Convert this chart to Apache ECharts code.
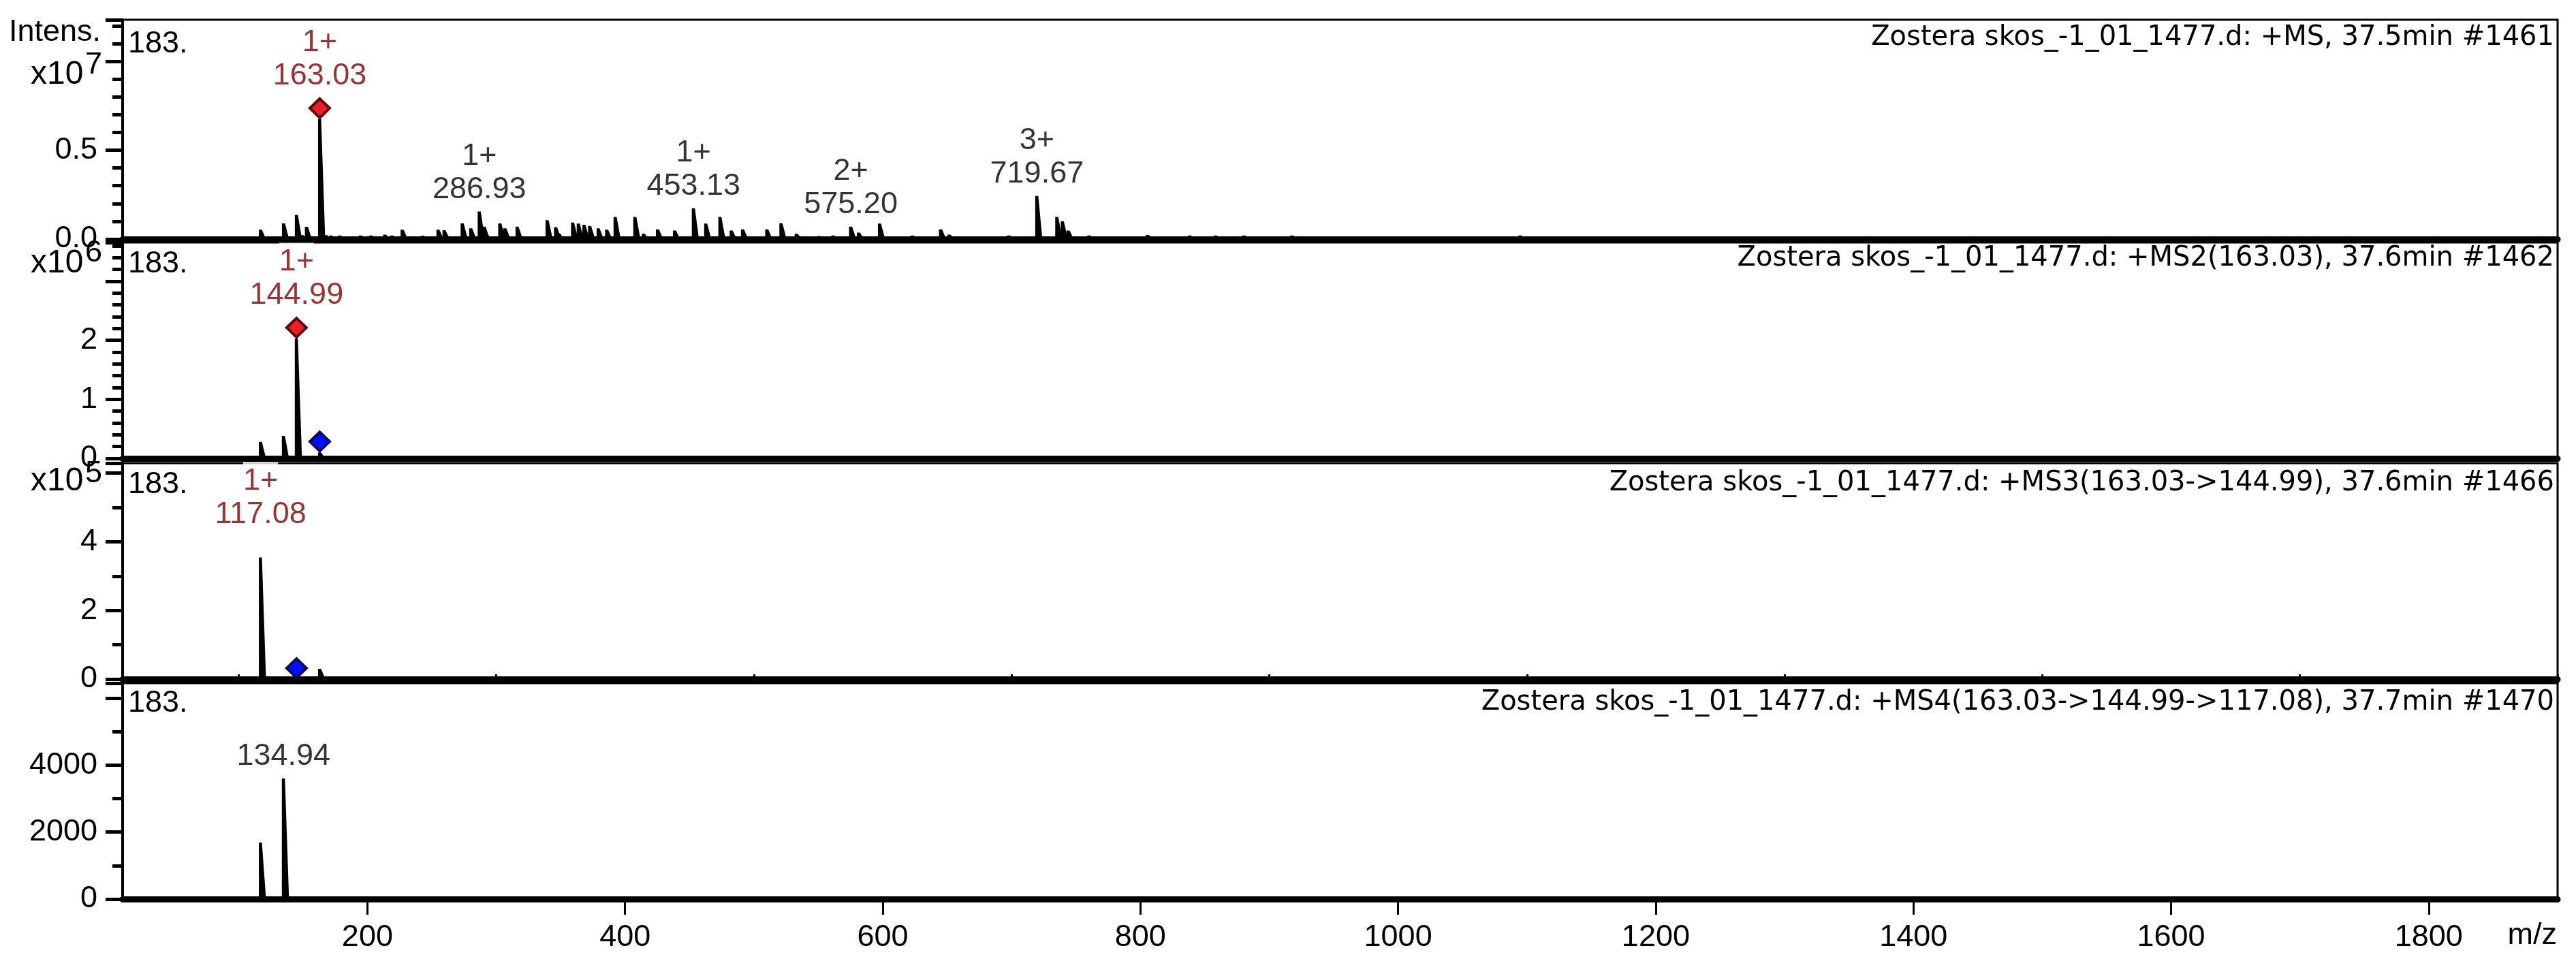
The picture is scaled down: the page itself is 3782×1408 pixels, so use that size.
<!DOCTYPE html>
<html>
<head>
<meta charset="utf-8">
<title>Zostera MSn spectra</title>
<script src="https://cdn.jsdelivr.net/npm/echarts@6/dist/echarts.min.js"></script>
<style>
  html, body { margin: 0; padding: 0; background: #fff; }
  #chart { width: 3782px; height: 1408px; }
</style>
</head>
<body>
<div id="chart"></div>
<script>
// m/z axis
const mzMin = 10
const mzMax = 1900
const xMajorTicks = [200, 400, 600, 800, 1000, 1200, 1400, 1600, 1800]
const xMinorTicks = [100, 300, 500, 700, 900, 1100, 1300, 1500, 1700, 1900]

// +MS, 37.5min #1461
const ms1Mz = [117.1, 135.0, 145.0, 149.3, 152.8, 163.03, 167.7, 171.7, 178.5, 194.7,
  202.8, 210.9, 213.5, 219.0, 227.1, 242.9, 254.9, 259.6, 260.6, 273.7, 280.3, 286.93,
  290.7, 291.3, 302.9, 306.8, 316.3, 339.6, 346.2, 348.5, 359.4, 363.8, 368.2, 372.6,
  379.2, 385.8, 392.4, 407.7, 414.3, 425.3, 438.5, 453.13, 462.7, 473.7,
  482.5, 491.3, 510.1, 521.1, 533.0, 550.6, 561.5, 575.20, 581.3, 597.6,
  623.0, 645.0, 651.6, 697.8, 719.67, 735.2, 739.5, 744.0, 760.1, 805.5,
  838.3, 858.2, 880.2, 884.4, 917.5, 1094.8]
const ms1Int = [5.3e5, 8.8e5, 1.36e6, 2.2e5, 6.9e5, 6.75e6, 2.2e5, 2.0e5, 2.0e5, 2.0e5,
  2.0e5, 1.5e5, 2.5e5, 2.0e5, 5.3e5, 1.9e5, 5.3e5, 5.0e5, 2.9e5, 8.8e5, 6.0e5, 1.55e6,
  7.0e5, 4.5e5, 8.8e5, 6.0e5, 7.0e5, 1.06e6, 6.7e5, 3.3e5, 9.3e5, 8.7e5, 8.0e5, 7.4e5,
  6.0e5, 5.3e5, 1.25e6, 1.25e6, 3.0e5, 5.5e5, 4.8e5, 1.73e6, 8.7e5, 1.25e6,
  4.8e5, 5.5e5, 5.5e5, 8.9e5, 3.0e5, 1.7e5, 2.0e5, 7.0e5, 3.6e5, 8.7e5,
  2.0e5, 5.5e5, 2.5e5, 2.0e5, 2.42e6, 1.25e6, 1.0e6, 4.8e5, 2.0e5, 2.3e5,
  2.0e5, 2.0e5, 2.0e5, 1.5e5, 2.0e5, 2.0e5]
const ms1LabelMz = [163.03, 286.93, 453.13, 575.20, 719.67]
const ms1LabelCharge = ['1+', '1+', '1+', '2+', '3+']

// +MS2(163.03), 37.6min #1462
const ms2Mz = [117.08, 134.94, 144.99, 163.03]
const ms2Int = [2.8e5, 3.8e5, 2.03e6, 1.0e5]
const ms2LabelMz = [144.99]
const ms2LabelCharge = ['1+']

// +MS3(163.03->144.99), 37.6min #1466
const ms3Mz = [117.08, 163.03]
const ms3Int = [3.54e5, 3.0e4]
const ms3LabelMz = [117.08]
const ms3LabelCharge = ['1+']

// +MS4(163.03->144.99->117.08), 37.7min #1470
const ms4Mz = [117.08, 134.94]
const ms4Int = [1690, 3600]
const ms4LabelMz = [134.94]
const ms4LabelCharge = ['']

// precursor marks
const precursorMz = [163.03, 144.99, 117.08, null]
const redMarkMz = [[163.03], [144.99], [], []]
const blueMarkMz = [[], [163.03], [144.99], []]

const panelTitles = [
  'Zostera skos_-1_01_1477.d: +MS, 37.5min #1461',
  'Zostera skos_-1_01_1477.d: +MS2(163.03), 37.6min #1462',
  'Zostera skos_-1_01_1477.d: +MS3(163.03->144.99), 37.6min #1466',
  'Zostera skos_-1_01_1477.d: +MS4(163.03->144.99->117.08), 37.7min #1470'
]
const yMax = [1.234e7, 3.658e6, 6.29e5, 6450]
const yInterval = [5e6, 1e6, 2e5, 2000]
const yMinorSplit = [5, 5, 2, 2]
const yLabelTop = [5e6, 2e6, 4e5, 4000]
const yExponent = [7, 6, 5, 0]
const yDecimals = [1, 0, 0, 0]

const panels = [
  { mz: ms1Mz, int: ms1Int, labelMz: ms1LabelMz, charge: ms1LabelCharge },
  { mz: ms2Mz, int: ms2Int, labelMz: ms2LabelMz, charge: ms2LabelCharge },
  { mz: ms3Mz, int: ms3Int, labelMz: ms3LabelMz, charge: ms3LabelCharge },
  { mz: ms4Mz, int: ms4Int, labelMz: ms4LabelMz, charge: ms4LabelCharge }
]

// layout
const gridTop = [29, 356, 680, 1003]
const gridBottomY = [351, 673, 997, 1320]
const FONT = '"Liberation Sans", Arial, sans-serif'
const TITLE_FONT = '"DejaVu Sans", Verdana, sans-serif'
const RED = '#800000'

const intensityAt = (p, m) => {
  const i = p.mz.findIndex(v => Math.abs(v - m) < 0.01)
  return i < 0 ? 0 : p.int[i]
}

const renderPeak = (params, api) => {
  const base = api.coord([api.value(0), 0])
  const top = api.coord([api.value(0), api.value(1)])
  return {
    type: 'polygon',
    shape: {
      points: [
        [base[0] - 2.5, base[1]],
        [top[0] - 2.5, top[1]],
        [top[0] + 2, top[1]],
        [base[0] + 8, base[1]]
      ]
    },
    style: { fill: '#000' }
  }
}

const chart = echarts.init(document.getElementById('chart'), null, { renderer: 'canvas' })

const grid = []
const xAxis = []
const yAxis = []
const series = []
const graphic = []

panels.forEach((p, i) => {
  grid.push({
    left: 180,
    right: 27,
    top: gridTop[i],
    height: gridBottomY[i] - gridTop[i],
    show: true,
    borderColor: '#000',
    borderWidth: 3,
    backgroundColor: 'transparent'
  })

  const last = i === panels.length - 1
  xAxis.push({
    type: 'value',
    gridIndex: i,
    min: mzMin,
    max: mzMax,
    axisLine: { show: true, lineStyle: { color: '#000', width: 9 } },
    axisTick: last
      ? { show: true, inside: false, length: 23, customValues: xMajorTicks, lineStyle: { color: '#000', width: 3 } }
      : { show: false },
    axisLabel: last
      ? { show: true, customValues: xMajorTicks, margin: 34, fontSize: 45, fontFamily: FONT, color: '#000', formatter: v => String(v) }
      : { show: false },
    splitLine: { show: false }
  })

  const exp = Math.pow(10, yExponent[i])
  yAxis.push({
    type: 'value',
    gridIndex: i,
    min: 0,
    max: yMax[i],
    interval: yInterval[i],
    axisLine: { show: true, lineStyle: { color: '#000', width: 4 } },
    axisTick: { show: true, inside: false, length: 25, lineStyle: { color: '#000', width: 5 } },
    minorTick: { show: true, splitNumber: yMinorSplit[i], length: 15, lineStyle: { color: '#000', width: 5 } },
    axisLabel: {
      margin: 37,
      fontSize: 45,
      fontFamily: FONT,
      color: '#000',
      formatter: v => (v > yLabelTop[i] ? '' : (v / exp).toFixed(yDecimals[i]))
    },
    splitLine: { show: false }
  })

  series.push({
    type: 'custom',
    xAxisIndex: i,
    yAxisIndex: i,
    renderItem: renderPeak,
    data: p.mz.map((m, j) => [m, p.int[j]]),
    z: 3
  })

  series.push({
    type: 'scatter',
    xAxisIndex: i,
    yAxisIndex: i,
    symbolSize: 0,
    silent: true,
    z: 5,
    data: p.labelMz.map((m, j) => {
      const red = m === precursorMz[i]
      const col = red ? RED : '#000'
      const charge = p.charge[j]
      return {
        value: [m, intensityAt(p, m)],
        label: {
          show: true,
          position: 'top',
          distance: red ? 37 : 6,
          align: 'center',
          color: col,
          formatter: charge
            ? '{c|' + charge + '}\n{v|' + m.toFixed(2) + '}'
            : '{v|' + m.toFixed(2) + '}',
          rich: {
            c: { fontSize: 45, fontFamily: FONT, color: col, lineHeight: 52, backgroundColor: '#fff', padding: [6, 0, 0, 0] },
            v: { fontSize: 45, fontFamily: FONT, color: col, lineHeight: 52 }
          }
        }
      }
    })
  })

  series.push({
    type: 'scatter',
    xAxisIndex: i,
    yAxisIndex: i,
    symbol: 'diamond',
    symbolSize: [29, 28],
    symbolOffset: [0, -16],
    silent: true,
    z: 6,
    itemStyle: { color: '#ee1c24', borderColor: '#5b0c0c', borderWidth: 4, opacity: 1 },
    data: redMarkMz[i].map(m => [m, intensityAt(p, m)])
  })

  series.push({
    type: 'scatter',
    xAxisIndex: i,
    yAxisIndex: i,
    symbol: 'diamond',
    symbolSize: [29, 28],
    symbolOffset: [0, -16],
    silent: true,
    z: 6,
    itemStyle: { color: '#0010ff', borderColor: '#0c0c5e', borderWidth: 4, opacity: 1 },
    data: blueMarkMz[i].map(m => [m, intensityAt(p, m)])
  })
})

// short ticks on the m/z axis
xAxis.push({
  type: 'value',
  gridIndex: 3,
  min: mzMin,
  max: mzMax,
  axisLine: { show: false },
  axisTick: { show: true, inside: false, length: 13, customValues: xMinorTicks, lineStyle: { color: '#000', width: 3 } },
  axisLabel: { show: false },
  splitLine: { show: false }
})

// texts
const titleY = [56, 380, 710, 1032]
const numY = [65, 388, 712, 1033]
panelTitles.forEach((t, i) => {
  graphic.push({
    type: 'text', x: 3750, y: titleY[i], z: 10,
    style: { text: t, font: '40px ' + TITLE_FONT, fill: '#000', align: 'right', verticalAlign: 'middle' }
  })
  graphic.push({
    type: 'text', x: 188, y: numY[i], z: 10,
    style: { text: '183.', font: '45px ' + FONT, fill: '#000', align: 'left', verticalAlign: 'middle' }
  })
})

graphic.push({
  type: 'text', x: 13, y: 48, z: 10,
  style: { text: 'Intens.', font: '45px ' + FONT, fill: '#000', align: 'left', verticalAlign: 'middle' }
})

const expBaseY = [110, 387, 707]
const expSupY = [96, 372, 696]
expBaseY.forEach((y, i) => {
  graphic.push({
    type: 'text', x: 45, y: y, z: 10,
    style: { text: 'x10', font: '48px ' + FONT, fill: '#000', align: 'left', verticalAlign: 'middle' }
  })
  graphic.push({
    type: 'text', x: 125, y: expSupY[i], z: 10,
    style: { text: String(yExponent[i]), font: '45px ' + FONT, fill: '#000', align: 'left', verticalAlign: 'middle' }
  })
})

graphic.push({
  type: 'text', x: 3754, y: 1374, z: 10,
  style: { text: 'm/z', font: '45px ' + FONT, fill: '#000', align: 'right', verticalAlign: 'middle' }
})

chart.setOption({
  animation: false,
  backgroundColor: '#fff',
  grid,
  xAxis,
  yAxis,
  series,
  graphic
})
</script>
</body>
</html>
